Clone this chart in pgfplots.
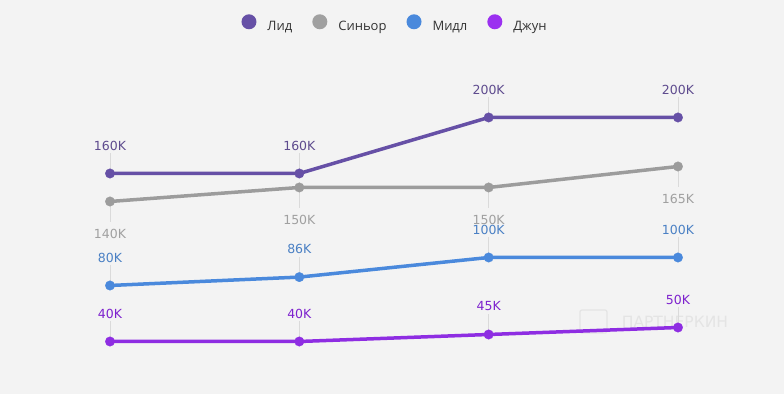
\documentclass[border=0pt]{standalone}
\usepackage{pgfplots}
\pgfplotsset{compat=1.18}
\usepackage{fontspec}
\setmainfont{DejaVu Sans}
\newfontfamily\legfont{Open Sans}
\definecolor{bg}{HTML}{F3F3F3}
\definecolor{lead}{HTML}{6650A6}
\definecolor{leadlab}{HTML}{5E4B8E}
\definecolor{senior}{HTML}{9C9C9C}
\definecolor{seniorlab}{HTML}{A0A0A0}
\definecolor{middle}{HTML}{4A89DC}
\definecolor{middlelab}{HTML}{4A80C4}
\definecolor{junior}{HTML}{8E2DE2}
\definecolor{juniorlab}{HTML}{7E22CE}
\definecolor{juniorleg}{HTML}{9B30F0}
\definecolor{stem}{HTML}{DADADA}
\definecolor{legtext}{HTML}{333333}
\definecolor{wm}{HTML}{E4E4E4}
\begin{document}
\begin{tikzpicture}
\begin{axis}[
  scale only axis, width=784bp, height=394bp,
  xmin=-0.581, xmax=3.560, ymin=2.5, ymax=283.9,
  axis lines=none, xtick=\empty, ytick=\empty,
  axis background/.style={fill=bg},
  clip=false,
  legend style={at={(0.5026,0.9416)}, anchor=center, draw=none, fill=none,
    legend columns=4, font=\legfont\fontsize{13bp}{15bp}\selectfont, text=legtext,
    /tikz/every odd column/.append style={column sep=11bp},
    /tikz/every even column/.append style={column sep=20bp},
    nodes={inner sep=0pt}},
  legend image code/.code={\fill[#1] (7.5bp,4.5bp) circle[radius=7.5bp];},
  every axis plot/.append style={line width=3.5bp, mark=*, mark size=4.8bp,
    mark options={line width=0.2bp}},
  nodes near coords={\pgfmathprintnumber[assume math mode=true]{\pgfplotspointmeta}K},
  nodes near coords style={font=\fontsize{12.5bp}{14bp}\selectfont, anchor=center, yshift=28bp},
]
% watermark
\draw[wm, line width=1.2bp, rounded corners=2bp] (axis cs:2.482,62.5) rectangle (axis cs:2.625,46);
\node[text=wm, font=\fontsize{15.5bp}{17bp}\selectfont] at (axis cs:2.984,53.9) {ПАРТНЕРКИН};

\addlegendimage{fill=lead, draw=none}
\addlegendentry{Лид}
\addlegendimage{fill=seniorlab, draw=none}
\addlegendentry{Синьор}
\addlegendimage{fill=middle, draw=none}
\addlegendentry{Мидл}
\addlegendimage{fill=juniorleg, draw=none}
\addlegendentry{Джун}

\addplot[lead, forget plot, every node near coord/.append style={text=leadlab},
  error bars/.cd, y dir=plus, y fixed=14.5, error mark=none,
  error bar style={line width=0.6bp, color=stem}]
  coordinates {(0,160) (1,160) (2,200) (3,200)};
\addplot[senior, forget plot, every node near coord/.append style={text=seniorlab, yshift=-60bp},
  error bars/.cd, y dir=minus, y fixed=14.5, error mark=none,
  error bar style={line width=0.6bp, color=stem}]
  coordinates {(0,140) (1,150) (2,150) (3,165)};
\addplot[middle, forget plot, every node near coord/.append style={text=middlelab},
  error bars/.cd, y dir=plus, y fixed=14.5, error mark=none,
  error bar style={line width=0.6bp, color=stem}]
  coordinates {(0,80) (1,86) (2,100) (3,100)};
\addplot[junior, forget plot, every node near coord/.append style={text=juniorlab},
  error bars/.cd, y dir=plus, y fixed=14.5, error mark=none,
  error bar style={line width=0.6bp, color=stem}]
  coordinates {(0,40) (1,40) (2,45) (3,50)};
\end{axis}
\end{tikzpicture}
\end{document}
